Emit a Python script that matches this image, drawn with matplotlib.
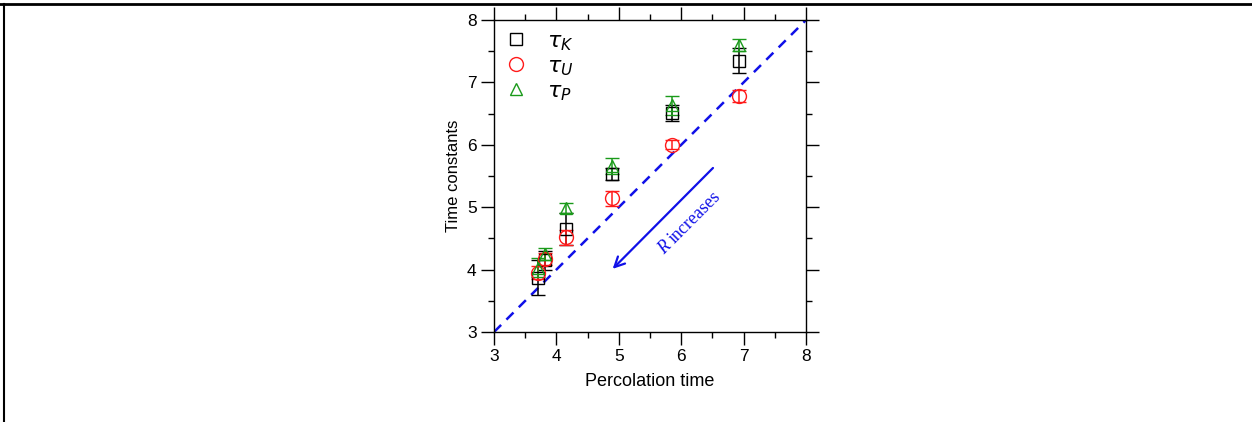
import numpy as np
import matplotlib
matplotlib.use("Agg")
from matplotlib import pyplot as plt
from matplotlib.lines import Line2D
from matplotlib.ticker import MultipleLocator

plt.rcParams['font.family'] = ['Liberation Sans', 'DejaVu Sans']

# percolation time for each radius (x) and the three time constants with errors
perc_time = [3.70, 3.81, 4.15, 4.89, 5.85, 6.93]
tau_K = [3.87, 4.15, 4.65, 5.53, 6.51, 7.35]
tau_K_err = [0.28, 0.15, 0.25, 0.10, 0.13, 0.20]
tau_U = [3.95, 4.17, 4.52, 5.14, 6.00, 6.78]
tau_U_err = [0.10, 0.10, 0.12, 0.12, 0.07, 0.10]
tau_P = [4.03, 4.25, 4.98, 5.66, 6.63, 7.60]
tau_P_err = [0.15, 0.10, 0.08, 0.13, 0.16, 0.10]

fig = plt.figure(figsize=(12.52, 4.22), dpi=100)
ax = fig.add_axes([0.3946, 0.2133, 0.2492, 0.7393])

# y = x reference line
ax.plot([3, 8], [3, 8], color='#1010e8', ls=(0, (4, 3)), lw=1.8, zorder=1)

series = [
    (tau_K, tau_K_err, 's', 'black', 8, r'$\tau_K$'),
    (tau_U, tau_U_err, 'o', '#ff1a1a', 10, r'$\tau_U$'),
    (tau_P, tau_P_err, '^', '#1a9a1a', 9, r'$\tau_P$'),
]
handles = []
for vals, errs, mk, col, ms, lab in series:
    ax.errorbar(perc_time, vals, yerr=errs, fmt=mk, mfc='none', mec=col,
                ms=ms, mew=1.0, ecolor=col, elinewidth=1.1, capsize=5,
                capthick=1.1, zorder=3)
    handles.append(Line2D([], [], ls='none', marker=mk, mfc='none', mec=col,
                          ms=ms, mew=1.0, label=lab))

leg = ax.legend(handles=handles, loc='upper left', frameon=False,
                fontsize=16, handletextpad=0.9, labelspacing=0.15,
                borderaxespad=0.1, handlelength=1.0)

# arrow and label
ax.annotate('', xy=(4.87, 3.98), xytext=(6.54, 5.66),
            arrowprops=dict(arrowstyle='->', color='#1010e8', lw=1.6,
                            mutation_scale=18))
ax.text(5.72, 4.24, 'R', rotation=45, rotation_mode='anchor', color='#1010e8',
        fontsize=13, family='Liberation Serif', style='italic',
        ha='left', va='baseline')
ax.annotate('increases', xy=(5.72, 4.24), xytext=(8, 8),
            textcoords='offset points', rotation=45, rotation_mode='anchor',
            color='#1010e8', fontsize=13, family='Liberation Serif',
            ha='left', va='baseline')

ax.set_xlim(3, 8)
ax.set_ylim(3, 8)
ax.xaxis.set_major_locator(MultipleLocator(1))
ax.yaxis.set_major_locator(MultipleLocator(1))
ax.xaxis.set_minor_locator(MultipleLocator(0.5))
ax.yaxis.set_minor_locator(MultipleLocator(0.5))
ax.tick_params(which='both', direction='out', top=True, right=True,
               labelsize=12.5, width=1.0, pad=3)
ax.tick_params(which='major', length=9.5)
ax.tick_params(which='minor', length=4.5)
for sp in ax.spines.values():
    sp.set_linewidth(1.0)

ax.set_xlabel('Percolation time', fontsize=13, labelpad=6)
ax.set_ylabel('Time constants', fontsize=12, labelpad=4)

# frame lines of the surrounding page
fig.add_artist(Line2D([0, 1], [0.990, 0.990], color='black', lw=2,
                      transform=fig.transFigure))
fig.add_artist(Line2D([0.0028, 0.0028], [0, 0.990], color='black', lw=1.5,
                      transform=fig.transFigure))

fig.savefig('out.png', dpi=100)
